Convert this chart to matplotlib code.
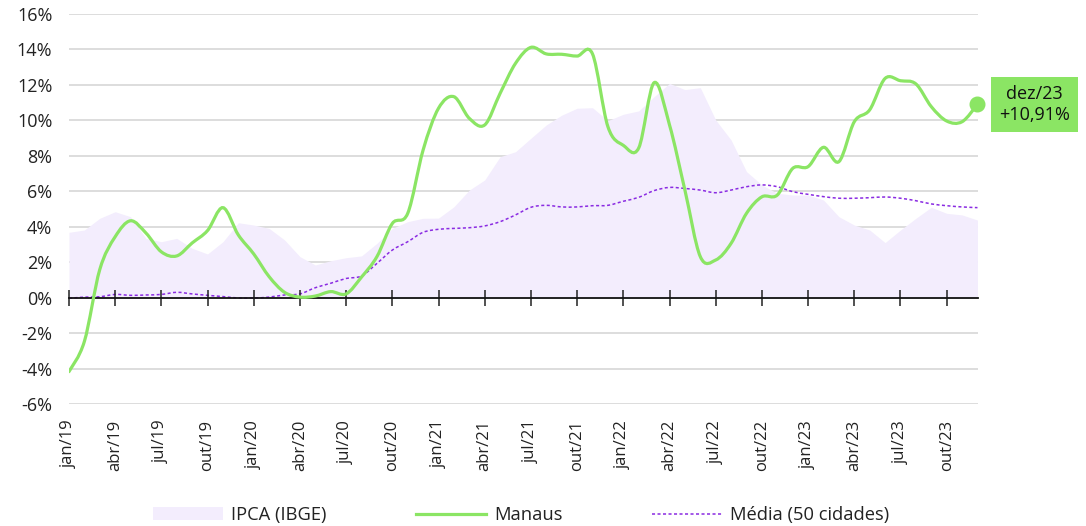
import matplotlib
matplotlib.use("Agg")
import matplotlib.pyplot as plt
from matplotlib.path import Path
from matplotlib.patches import PathPatch, Patch
from matplotlib.lines import Line2D
import numpy as np

plt.rcParams['font.family'] = ['Open Sans', 'DejaVu Sans']

# 12-month inflation, jan/19 .. dez/23
meses = ['jan', 'fev', 'mar', 'abr', 'mai', 'jun', 'jul', 'ago', 'set', 'out', 'nov', 'dez']
anos = ['19', '20', '21', '22', '23']
periodos = [m + '/' + a for a in anos for m in meses]

ipca = [3.70, 3.83, 4.49, 4.86, 4.58, 3.36, 3.17, 3.36, 2.80, 2.48, 3.17, 4.24,
        4.11, 3.92, 3.27, 2.33, 1.86, 2.10, 2.27, 2.37, 3.08, 3.92, 4.30, 4.49,
        4.50, 5.14, 6.08, 6.65, 7.96, 8.24, 9.00, 9.75, 10.30, 10.69, 10.72, 9.99,
        10.35, 10.54, 11.34, 12.09, 11.74, 11.85, 10.03, 8.90, 7.12, 6.37, 5.90, 5.80,
        5.80, 5.52, 4.58, 4.11, 3.83, 3.12, 3.83, 4.49, 5.11, 4.77, 4.68, 4.39]

manaus = [-4.15, -2.45, 1.60, 3.45, 4.35, 3.66, 2.60, 2.37, 3.10, 3.80, 5.09, 3.55,
          2.48, 1.20, 0.32, 0.05, 0.11, 0.36, 0.23, 1.18, 2.33, 4.20, 4.77, 8.34,
          10.69, 11.34, 10.12, 9.75, 11.53, 13.22, 14.12, 13.75, 13.73, 13.63, 13.75, 9.65,
          8.60, 8.45, 12.13, 9.75, 6.08, 2.33, 2.14, 3.08, 4.77, 5.70, 5.80, 7.30,
          7.40, 8.49, 7.68, 9.93, 10.60, 12.37, 12.24, 12.06, 10.78, 9.97, 9.93, 10.91]

media = [-0.02, 0.05, 0.07, 0.20, 0.15, 0.17, 0.20, 0.32, 0.23, 0.15, 0.08, 0.00,
         0.00, 0.05, 0.17, 0.23, 0.58, 0.83, 1.10, 1.24, 1.95, 2.70, 3.17, 3.70,
         3.87, 3.92, 3.96, 4.06, 4.30, 4.68, 5.11, 5.22, 5.13, 5.13, 5.20, 5.22,
         5.45, 5.67, 6.05, 6.23, 6.17, 6.08, 5.93, 6.08, 6.27, 6.37, 6.27, 5.99,
         5.84, 5.71, 5.62, 5.62, 5.65, 5.69, 5.62, 5.48, 5.30, 5.20, 5.13, 5.09]

verde = '#8be564'
roxo = '#8a2be2'
lilas = '#f3edfd'
ymin, ymax = -6, 16


def curva(x, y, t=1 / 6):
    # Catmull-Rom segments written as cubic Bezier pieces
    n = len(x)
    verts = [(x[0], y[0])]
    codes = [Path.MOVETO]
    for i in range(n - 1):
        a = max(i - 1, 0)
        d = min(i + 2, n - 1)
        c1 = (x[i] + (x[i + 1] - x[a]) * t, y[i] + (y[i + 1] - y[a]) * t)
        c2 = (x[i + 1] - (x[d] - x[i]) * t, y[i + 1] - (y[d] - y[i]) * t)
        verts += [c1, c2, (x[i + 1], y[i + 1])]
        codes += [Path.CURVE4] * 3
    return Path(verts, codes)


x = np.arange(len(periodos))

fig = plt.figure(figsize=(10.86, 5.26), dpi=100)
ax = fig.add_axes([0.0635, 0.231, 0.837, 0.7424])
ax.set_axisbelow(True)

ax.fill_between(x, 0, ipca, color=lilas, lw=0, zorder=1)
ax.add_patch(PathPatch(curva(x, media), fill=False, edgecolor=roxo, lw=1.1,
                       linestyle=(0, (2, 1.6)), zorder=2))
ax.add_patch(PathPatch(curva(x, manaus), fill=False, edgecolor=verde, lw=2.3,
                       capstyle='round', zorder=3))
ax.plot(x[-1], manaus[-1], 'o', color=verde, ms=10.5, zorder=4, clip_on=False)

ultimo = '{}\n+{:.2f}%'.format(periodos[-1], manaus[-1]).replace('.', ',')
ax.annotate(ultimo, xy=(x[-1], manaus[-1]), xytext=(41, 0), textcoords='offset points',
            ha='center', va='center', fontsize=13, color='#111111', linespacing=1.2,
            bbox=dict(boxstyle='square,pad=0.45', fc=verde, ec='none'),
            annotation_clip=False)

ax.set_xlim(0, x[-1] + 0.03)
ax.set_ylim(ymin, ymax)
yt = np.arange(ymin, ymax + 1, 2)
ax.set_yticks(yt, ['{}%'.format(v) for v in yt])
ax.grid(axis='y', color='#dddddd', lw=1.4)
ax.grid(axis='x', visible=False)
for s in ax.spines.values():
    s.set_visible(False)

xt = x[::3]
ax.set_xticks(xt, [periodos[i] for i in xt])
ax.tick_params(axis='x', length=0, rotation=90, pad=11, labelsize=12, labelcolor='#222222')
ax.tick_params(axis='y', length=0, pad=12, labelsize=13, labelcolor='#222222')

# zero line carrying the month ticks
zero = ax.secondary_xaxis((0 - ymin) / (ymax - ymin))
zero.set_xticks(xt, [])
zero.tick_params(direction='inout', length=12, width=1.1, color='#222222')
zero.spines['bottom'].set_color('#111111')
zero.spines['bottom'].set_linewidth(1.3)
zero.set_zorder(2.5)

handles = [Patch(facecolor=lilas, edgecolor='none'),
           Line2D([], [], color=verde, lw=2.3),
           Line2D([], [], color=roxo, lw=1.1, linestyle=(0, (2, 1.6)))]
fig.legend(handles, ['IPCA (IBGE)', 'Manaus', 'Média (50 cidades)'],
           loc='center', bbox_to_anchor=(0.48, 0.021), ncol=3, frameon=False,
           fontsize=13.2, handlelength=3.8, handletextpad=0.45, columnspacing=4.9,
           labelcolor='#222222')

fig.savefig('out.png', dpi=100)
